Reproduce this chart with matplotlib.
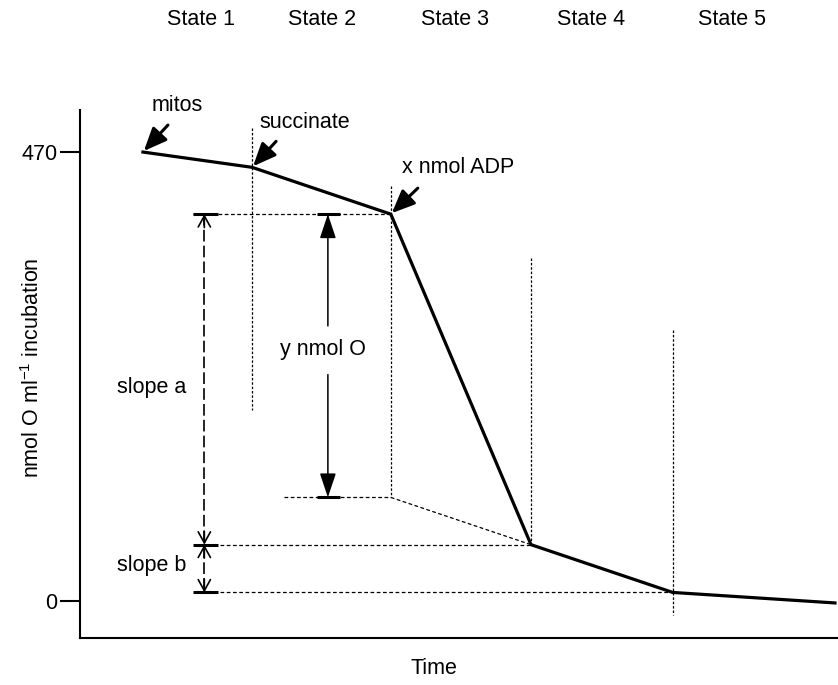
import numpy as np
import matplotlib
matplotlib.use("Agg")
import matplotlib.pyplot as plt

plt.rcParams['font.family'] = ['Liberation Sans', 'DejaVu Sans']
plt.rcParams['font.size'] = 15.5
plt.rcParams['mathtext.fontset'] = 'custom'
plt.rcParams['mathtext.rm'] = 'Liberation Sans'

# oxygen trace (arbitrary time units, nmol O / ml)
time_pts = [8.3, 22.7, 41.0, 59.5, 78.2, 99.6]
o2_pts = [470, 454, 405, 59, 9, -2]

state_labels = ['State 1', 'State 2', 'State 3', 'State 4', 'State 5']
state_x = [16.0, 31.9, 49.5, 67.4, 86.0]
y_ticks = [0, 470]

# vertical dotted markers: top of each line
vline_tops = [495, 434, 359, 284]
vline_bottom_s2 = 200
vline_bottom_s5 = -15

# start of horizontal dotted reference lines
href_start = [14.9, 26.9, 15.2, 15.2]

slope_arrow_x = 16.4
yo_arrow_x = 32.7
cap_a = (14.9, 18.2)
cap_b = (31.3, 34.3)

fig = plt.figure(figsize=(8.38, 6.85), dpi=100)
ax = fig.add_axes([0.0955, 0.0686, 0.9045, 0.7708])
ax.set_xlim(0, 100)
ax.set_ylim(-38.7, 514)

t_succ, t_adp, t_s4, t_s5 = time_pts[1], time_pts[2], time_pts[3], time_pts[4]
y_adp, y_s4, y_s5 = o2_pts[2], o2_pts[3], o2_pts[4]

# state 4 rate extrapolated back to ADP addition
slope4 = (o2_pts[4] - o2_pts[3]) / (time_pts[4] - time_pts[3])
y_extrap = y_s4 + slope4 * (t_adp - t_s4)

dot = dict(color='black', lw=0.9, linestyle=(0, (2, 1.5)))
dash = dict(color='black', lw=0.9, linestyle=(0, (3, 2)))

# vertical dotted lines
ax.plot([t_succ, t_succ], [vline_tops[0], vline_bottom_s2], **dot)
ax.plot([t_adp, t_adp], [vline_tops[1], y_extrap], **dot)
ax.plot([t_s4, t_s4], [vline_tops[2], y_s4], **dot)
ax.plot([t_s5, t_s5], [vline_tops[3], vline_bottom_s5], **dot)

# horizontal reference lines
ax.plot([href_start[0], t_adp], [y_adp, y_adp], **dash)
ax.plot([href_start[1], t_adp], [y_extrap, y_extrap], **dash)
ax.plot([href_start[2], t_s4], [y_s4, y_s4], **dash)
ax.plot([href_start[3], t_s5], [y_s5, y_s5], **dash)
ax.plot([t_adp, t_s4], [y_extrap, y_s4], **dash)

# oxygen trace
ax.plot(time_pts, o2_pts, color='black', lw=2.3, solid_joinstyle='miter')

# caps
for yv in [y_adp, y_s4, y_s5]:
    ax.plot(cap_a, [yv, yv], color='black', lw=2.2, solid_capstyle='butt')
for yv in [y_adp, y_extrap]:
    ax.plot(cap_b, [yv, yv], color='black', lw=2.2, solid_capstyle='butt')

# slope a / slope b dashed arrows with open heads
ax.plot([slope_arrow_x, slope_arrow_x], [y_adp, y_s5], color='black', lw=1.2,
        linestyle=(0, (7, 2.5)))
open_head = dict(arrowstyle='->,head_length=0.4,head_width=0.22', color='black',
                 lw=1.2, shrinkA=0, shrinkB=0, mutation_scale=20)
for y_end, sign in [(y_adp, 1), (y_s4, -1), (y_s4, 1), (y_s5, -1)]:
    ax.annotate('', xy=(slope_arrow_x, y_end), xytext=(slope_arrow_x, y_end - sign * 14),
                arrowprops=open_head)

# y nmol O arrow
solid_head = dict(arrowstyle='-|>,head_length=0.75,head_width=0.25', color='black',
                  lw=1.1, shrinkA=0, shrinkB=0, mutation_scale=20)
ax.annotate('', xy=(yo_arrow_x, y_adp), xytext=(yo_arrow_x, 288), arrowprops=solid_head)
ax.annotate('', xy=(yo_arrow_x, y_extrap), xytext=(yo_arrow_x, 237), arrowprops=solid_head)
ax.text(32.1, 263, 'y nmol O', ha='center', va='center')

ax.text(9.5, 224, 'slope a', ha='center', va='center')
ax.text(9.4, 37.5, 'slope b', ha='center', va='center')

# addition arrows
add_head = dict(arrowstyle='-|>,head_length=0.7,head_width=0.3', color='black',
                lw=2.2, shrinkA=0, shrinkB=1, mutation_scale=20)
ax.annotate('', xy=(time_pts[0], o2_pts[0]), xytext=(25, 27), textcoords='offset pixels',
            arrowprops=add_head)
ax.annotate('', xy=(t_succ, o2_pts[1]), xytext=(24, 26), textcoords='offset pixels',
            arrowprops=add_head)
ax.annotate('', xy=(t_adp, y_adp), xytext=(27, 26), textcoords='offset pixels',
            arrowprops=add_head)
ax.text(9.5, 519, 'mitos', ha='left', va='center')
ax.text(23.7, 501, 'succinate', ha='left', va='center')
ax.text(42.5, 454, 'x nmol ADP', ha='left', va='center')

for lab, xs in zip(state_labels, state_x):
    ax.text(xs, 609, lab, ha='center', va='center')

# axes styling
for s in ['top', 'right']:
    ax.spines[s].set_visible(False)
for s in ['left', 'bottom']:
    ax.spines[s].set_linewidth(1.5)
ax.set_xticks([])
ax.set_yticks(y_ticks)
ax.tick_params(axis='y', length=14.4, width=1.5, direction='out', pad=2)
ax.set_ylabel('nmol O ml$^{-1}$ incubation', va='center')
ax.yaxis.set_label_coords(-0.062, 0.511)
ax.set_xlabel('Time', va='center')
ax.xaxis.set_label_coords(0.467, -0.057)

fig.savefig('out.png', dpi=100)
